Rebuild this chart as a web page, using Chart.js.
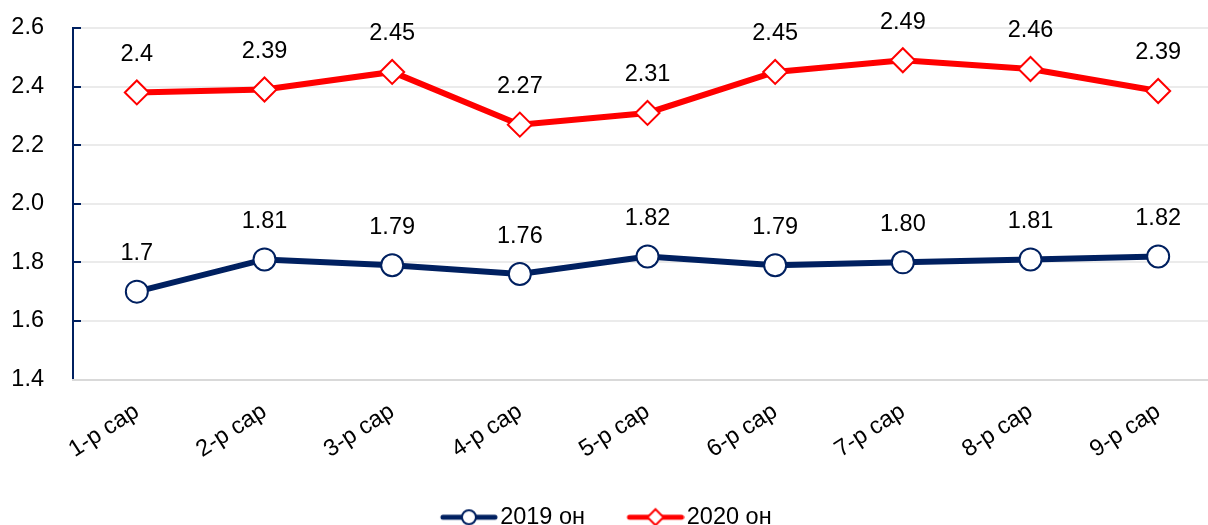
<!DOCTYPE html>
<html>
<head>
<meta charset="utf-8">
<script src="https://cdn.jsdelivr.net/npm/chart.js@4/dist/chart.umd.min.js"></script>
<style>
	html, body { margin: 0; padding: 0; background: #ffffff; overflow: hidden; }
	#chart-wrapper { position: relative; width: 1222px; height: 525px; }
</style>
</head>
<body>
<div id="chart-wrapper"><canvas id="sar-chart" width="1222" height="525"></canvas></div>
<script>
const months = ["1-р сар", "2-р сар", "3-р сар", "4-р сар", "5-р сар", "6-р сар", "7-р сар", "8-р сар", "9-р сар"];
const values2019 = [1.70, 1.81, 1.79, 1.76, 1.82, 1.79, 1.80, 1.81, 1.82];
const values2020 = [2.38, 2.39, 2.45, 2.27, 2.31, 2.45, 2.49, 2.46, 2.385];
const labels2019 = ["1.7", "1.81", "1.79", "1.76", "1.82", "1.79", "1.80", "1.81", "1.82"];
const labels2020 = ["2.4", "2.39", "2.45", "2.27", "2.31", "2.45", "2.49", "2.46", "2.39"];
const yTicks = [1.4, 1.6, 1.8, 2.0, 2.2, 2.4, 2.6];

const navy = "#002060";
const red = "#ff0000";
const fontFamily = "'Liberation Sans', Arial, sans-serif";
const fontSize = 23.5;

// legend swatch: line with the marker in the middle, on the right part of the image
function makeSwatch(color, style)
{
	let c = document.createElement("canvas");
	c.width = 107;
	c.height = 20;
	let ctx = c.getContext("2d");
	ctx.strokeStyle = color;
	ctx.lineWidth = 5;
	ctx.lineCap = "round";
	ctx.beginPath();
	ctx.moveTo(52, 10);
	ctx.lineTo(104, 10);
	ctx.stroke();
	ctx.fillStyle = "#ffffff";
	ctx.lineWidth = 2;
	ctx.beginPath();
	if(style == "circle")
		ctx.arc(78, 10, 7, 0, Math.PI * 2);
	else
	{
		ctx.moveTo(78, 2);
		ctx.lineTo(86, 10);
		ctx.lineTo(78, 18);
		ctx.lineTo(70, 10);
		ctx.closePath();
	}
	ctx.fill();
	ctx.stroke();
	return c;
}

const pointLabels = {
	id: "pointLabels",
	afterLayout(chart)
	{
		// swatch image has an empty lead-in, pull the legend back and down a bit
		chart.legend.left -= 25;
		chart.legend.right -= 25;
		chart.legend.top += 14;
		chart.legend.bottom += 14;
	},
	afterDatasetsDraw(chart)
	{
		let ctx = chart.ctx;
		ctx.save();
		ctx.font = fontSize + "px " + fontFamily;
		ctx.fillStyle = "#000000";
		ctx.textAlign = "center";
		ctx.textBaseline = "middle";
		chart.data.datasets.forEach((ds, i) => {
			let meta = chart.getDatasetMeta(i);
			meta.data.forEach((pt, j) => {
				ctx.fillText(ds.valueLabels[j], pt.x, pt.y - 38);
			});
		});
		ctx.restore();
	}
};

const swatches = [makeSwatch(navy, "circle"), makeSwatch(red, "diamond")];

new Chart(document.getElementById("sar-chart").getContext("2d"),
{
	type: "line",
	data:
	{
		labels: months,
		datasets:
		[{
			label: "2019 он",
			data: values2019,
			valueLabels: labels2019,
			borderColor: navy,
			borderWidth: 6,
			tension: 0,
			pointStyle: "circle",
			pointRadius: 11,
			pointBorderWidth: 2,
			pointBackgroundColor: "#ffffff",
			pointBorderColor: navy
		},
		{
			label: "2020 он",
			data: values2020,
			valueLabels: labels2020,
			borderColor: red,
			borderWidth: 6,
			tension: 0,
			pointStyle: "rectRot",
			pointRadius: 12,
			pointBorderWidth: 2,
			pointBackgroundColor: "#ffffff",
			pointBorderColor: red
		}]
	},
	options:
	{
		responsive: false,
		animation: false,
		layout: { autoPadding: false, padding: { left: 0, top: 28, right: 0, bottom: 0 } },
		plugins:
		{
			tooltip: { enabled: false },
			legend:
			{
				position: "bottom",
				labels:
				{
					usePointStyle: true,
					pointStyleWidth: 88,
					padding: 2,
					color: "#000000",
					font: { family: fontFamily, size: fontSize },
					generateLabels: (chart) => chart.data.datasets.map((ds, i) => ({
						text: ds.label,
						pointStyle: swatches[i],
						datasetIndex: i,
						lineWidth: 0,
						fontColor: "#000000"
					}))
				}
			}
		},
		scales:
		{
			y:
			{
				min: 1.4,
				max: 2.6,
				afterBuildTicks: (axis) => { axis.ticks = yTicks.map(v => ({ value: v })); },
				afterFit: (axis) => {
					axis.width = 73;
					axis.paddingTop = 0;
					axis.paddingBottom = 0;
				},
				ticks:
				{
					padding: 37,
					color: "#000000",
					font: { family: fontFamily, size: fontSize },
					callback: (v) => Number(v).toFixed(1)
				},
				grid: { color: "#ebebeb", lineWidth: 2, tickColor: navy, tickLength: -8 },
				border: { color: navy, width: 2 }
			},
			x:
			{
				offset: true,
				afterFit: (axis) => {
					axis.paddingLeft = 0;
					axis.paddingRight = 0;
					axis.height = 110;
				},
				ticks:
				{
					minRotation: 33,
					maxRotation: 33,
					padding: 18,
					color: "#000000",
					font: { family: fontFamily, size: fontSize }
				},
				grid: { color: "transparent", drawTicks: false },
				border: { color: "#d9d9d9", width: 2 }
			}
		}
	},
	plugins: [pointLabels]
});
</script>
</body>
</html>
